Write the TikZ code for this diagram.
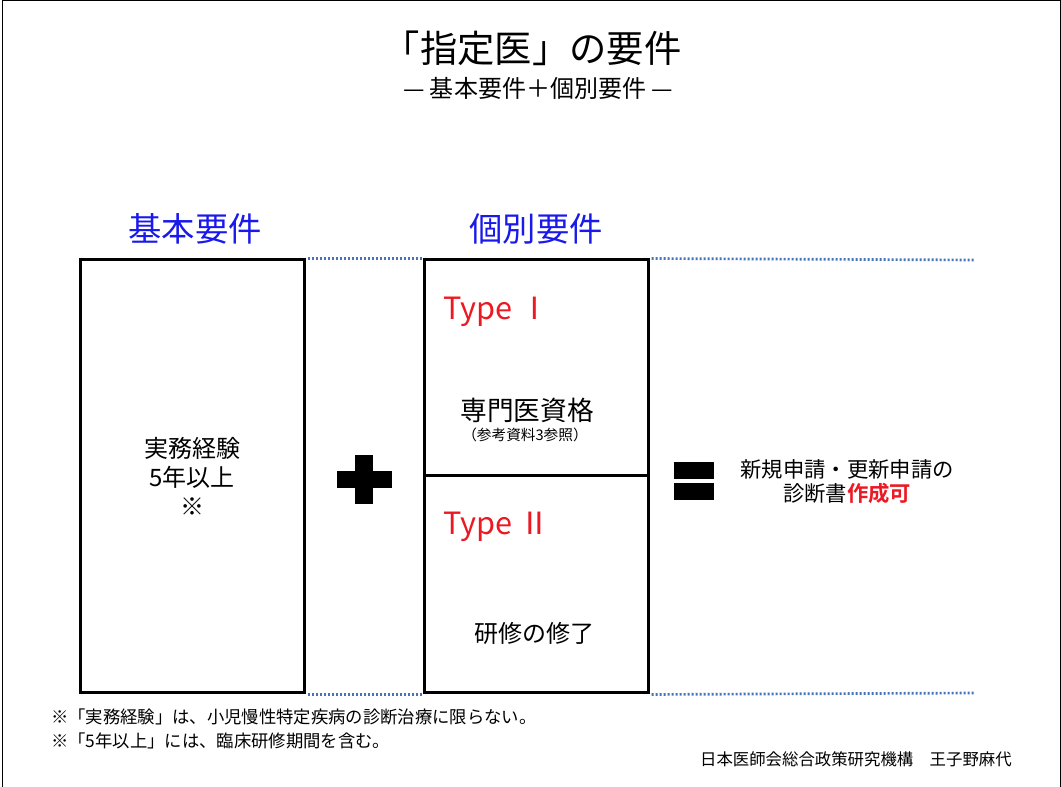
\documentclass[tikz,border=0pt]{standalone}
\usepackage{fontspec}
\setmainfont{Noto Sans CJK JP}[BoldFont={Noto Sans CJK JP Bold}]
\usetikzlibrary{positioning}
\usetikzlibrary{calc}
\definecolor{headblue}{RGB}{25,25,235}
\definecolor{typered}{RGB}{235,25,35}
\definecolor{dotblue}{RGB}{70,115,185}
\tikzstyle{reqbox}=[rectangle,draw=black,line width=2.25pt,minimum width=168pt,inner sep=0pt]
\tikzstyle{head}=[text=headblue,font=\fontsize{25}{30}\selectfont]
\tikzstyle{typelabel}=[text=typered,anchor=west,inner sep=0pt,font=\fontsize{23}{28}\selectfont]
\tikzstyle{body}=[align=center,font=\fontsize{18}{21.5}\selectfont]
\tikzstyle{guide}=[draw=dotblue,line width=2pt,dash pattern=on 1.5pt off 1.5pt,shorten <=1.5pt]
\tikzstyle{note}=[anchor=west,inner sep=0pt,font=\fontsize{13}{15}\selectfont]

\begin{document}
\begin{tikzpicture}[x=0.75pt,y=-0.75pt]
    \useasboundingbox (0,0) rectangle (1061,787);
    \draw[line width=0.75pt] (2,787) -- (2,1) -- (1060,1) -- (1060,787);

    % title
    \node[font=\fontsize{28}{34}\selectfont] (title) at (532,48) {「指定医」の要件};
    \node[font=\fontsize{18}{22}\selectfont] (subtitle) at (538,88) {— 基本要件＋個別要件 —};

    \foreach \pos/\name/\label in {{(195,229)/basichead/基本要件}, {(536,229)/indivhead/個別要件}}
        \node[head] (\name) at \pos {\label};

    % boxes
    \node[reqbox,body,minimum height=324.75pt] (basic) at (192,476.5) {実務経験\\5年以上\\※};
    \node[reqbox,minimum height=162pt] (type1) at (536,368) {};
    \node[reqbox,minimum height=162.75pt] (type2) at (536,584.5) {};

    \foreach \pos/\name/\label in {{(443,312)/typeone/Type~Ⅰ}, {(443,527)/typetwo/Type~Ⅱ}}
        \node[typelabel] (\name) at \pos {\label};

    \node[font=\fontsize{20}{24}\selectfont] (spec) at (527,410) {専門医資格};
    \node[font=\fontsize{11}{13}\selectfont] (specnote) at (525,435) {（参考資料3参照）};
    \node[body] (training) at (534,633) {研修の修了};

    % plus / equals
    \fill (337,471) rectangle (392,488);
    \fill (355,455) rectangle (373,504);
    \fill (674,462) rectangle (714,479);
    \fill (674,483) rectangle (714,500);

    \node[align=center,font=\fontsize{16}{18}\selectfont] (result) at (847,482) {新規申請・更新申請の\\診断書{\bfseries\color{typered}作成可}};

    % dotted guides
    \coordinate (guidetop) at (975,260);
    \coordinate (guidebot) at (975,693);
    \foreach \source/\dest in {basic.north east/type1.north west, type1.north east/guidetop, basic.south east/type2.south west, type2.south east/guidebot}
        \path[guide] (\source) -- (\dest);

    % notes
    \foreach \pos/\name/\label in {{(51,717)/noteone/※「実務経験」は、小児慢性特定疾病の診断治療に限らない。}, {(51,741)/notetwo/※「5年以上」には、臨床研修期間を含む。}}
        \node[note] (\name) at \pos {\label};
    \node[note,anchor=east,font=\fontsize{12.3}{15}\selectfont] (credit) at (1012,759) {日本医師会総合政策研究機構\quad 王子野麻代};

\end{tikzpicture}
\end{document}
